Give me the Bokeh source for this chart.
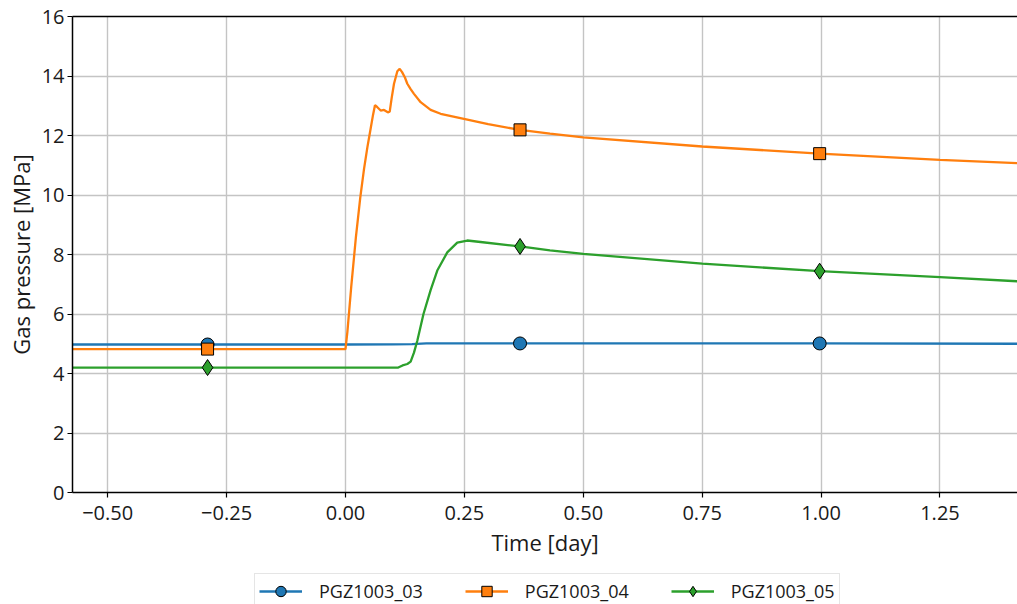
from bokeh.plotting import figure
from bokeh.layouts import column
from bokeh.models import Range1d, FixedTicker, LinearAxis, Legend, LegendItem
from bokeh.embed import file_html
from bokeh.resources import INLINE

# Gas pressure [MPa] against time [day] for three sensors
t03 = [-0.574, -0.29, 0.0, 0.10, 0.14, 0.17, 0.22, 0.367, 0.75, 0.997, 1.413]
p03 = [4.975, 4.975, 4.975, 4.98, 4.99, 5.01, 5.01, 5.01, 5.01, 5.01, 5.0]

t04 = [-0.574, -0.29, 0.0, 0.004, 0.012, 0.022, 0.031, 0.039, 0.046, 0.051,
       0.058, 0.062, 0.067, 0.074, 0.081, 0.089, 0.093, 0.097, 0.102, 0.109,
       0.114, 0.119, 0.125, 0.13, 0.137, 0.144, 0.158, 0.179, 0.2, 0.249,
       0.3, 0.367, 0.43, 0.5, 0.75, 0.997, 1.25, 1.413]
p04 = [4.82, 4.82, 4.82, 5.4, 6.9, 8.6, 9.9, 10.88, 11.6, 12.06,
       12.7, 13.02, 12.95, 12.84, 12.86, 12.78, 12.8, 13.25, 13.74, 14.16,
       14.24, 14.13, 13.95, 13.74, 13.56, 13.40, 13.12, 12.86, 12.73, 12.56,
       12.38, 12.19, 12.06, 11.94, 11.63, 11.39, 11.18, 11.07]

t05 = [-0.574, -0.29, 0.0, 0.111, 0.12, 0.13, 0.137, 0.144, 0.151, 0.164,
       0.179, 0.193, 0.214, 0.235, 0.256, 0.284, 0.367, 0.43, 0.5, 0.75,
       0.997, 1.25, 1.413]
p05 = [4.2, 4.2, 4.2, 4.2, 4.27, 4.32, 4.4, 4.7, 5.1, 6.0,
       6.8, 7.46, 8.07, 8.4, 8.47, 8.42, 8.27, 8.14, 8.02, 7.69,
       7.44, 7.24, 7.10]

# times at which markers are placed on each curve
marker_t = [-0.29, 0.367, 0.997]

labels = ["PGZ1003_03", "PGZ1003_04", "PGZ1003_05"]
colors = ["#1f77b4", "#ff7f0e", "#2ca02c"]
markers = ["circle", "square", "diamond"]
marker_sizes = [13, 12, 16]

x_ticks = [-0.5, -0.25, 0.0, 0.25, 0.5, 0.75, 1.0, 1.25]
y_ticks = [0, 2, 4, 6, 8, 10, 12, 14, 16]

FONT = "Open Sans"
TEXT = "#1a1a1a"

p = figure(width=1017, height=562, output_backend="svg", toolbar_location=None,
           x_range=Range1d(-0.574, 1.413), y_range=Range1d(0, 16),
           min_border_left=72, min_border_right=0, min_border_top=16,
           min_border_bottom=70)
p.outline_line_color = None
p.background_fill_color = "white"
p.border_fill_color = "white"

# axes
p.xaxis.ticker = FixedTicker(ticks=x_ticks)
p.xaxis.major_label_overrides = {v: f"{v:.2f}".replace("-", "\u2212") for v in x_ticks}
p.yaxis.ticker = FixedTicker(ticks=y_ticks)
p.yaxis.major_label_overrides = {v: str(v) for v in y_ticks}
p.xaxis.axis_label = "Time [day]"
p.yaxis.axis_label = "Gas pressure [MPa]"
for ax in (p.xaxis, p.yaxis):
    ax.axis_line_color = "black"
    ax.axis_line_width = 1.5
    ax.major_tick_line_color = "black"
    ax.major_tick_line_width = 1.2
    ax.major_tick_out = 5
    ax.major_tick_in = 0
    ax.minor_tick_line_color = None
    ax.major_label_text_font = FONT
    ax.major_label_text_font_size = "20px"
    ax.major_label_text_color = TEXT
    ax.axis_label_text_font = FONT
    ax.axis_label_text_font_size = "22px"
    ax.axis_label_text_font_style = "normal"
    ax.axis_label_text_color = TEXT
p.xaxis.major_label_standoff = 8
p.xaxis.axis_label_standoff = 4
p.yaxis.major_label_standoff = 3
p.yaxis.axis_label_standoff = 3

top = LinearAxis(ticker=FixedTicker(ticks=[]), axis_line_color="black",
                 axis_line_width=1.5, major_tick_line_color=None,
                 minor_tick_line_color=None, major_label_text_font_size="0px")
p.add_layout(top, "above")

p.xgrid.ticker = FixedTicker(ticks=x_ticks)
p.ygrid.ticker = FixedTicker(ticks=y_ticks)
p.grid.grid_line_color = "#c4c4c4"
p.grid.grid_line_width = 1.4

# legend strip under the chart: its renderers lie outside its own ranges,
# so only the legend swatches show
strip = figure(width=1017, height=42, output_backend="svg", toolbar_location=None,
               x_range=Range1d(0, 1), y_range=Range1d(-2, -1),
               x_axis_location=None, y_axis_location=None,
               min_border_left=0, min_border_right=0, min_border_top=0,
               min_border_bottom=0)
strip.outline_line_color = None
strip.grid.visible = False
strip.border_fill_color = "white"
strip.background_fill_color = "white"

items = []
for t, v, lab, col, mk, ms in zip([t03, t04, t05], [p03, p04, p05], labels,
                                  colors, markers, marker_sizes):
    my = [v[t.index(m)] for m in marker_t]
    p.line(t, v, line_color=col, line_width=2.3)
    p.scatter(marker_t, my, marker=mk, size=ms, fill_color=col,
              line_color="black", line_width=1)
    ln = strip.line(marker_t, my, line_color=col, line_width=2.3)
    sc = strip.scatter(marker_t, my, marker=mk, size=ms, fill_color=col,
                       line_color="black", line_width=1)
    items.append(LegendItem(label=lab, renderers=[ln, sc]))

legend = Legend(items=items, orientation="horizontal", location=(182, -5),
                label_text_font=FONT, label_text_font_size="18px",
                label_text_color=TEXT, glyph_width=43, glyph_height=26,
                label_standoff=17, spacing=42, padding=4, margin=0,
                border_line_color="#cccccc", border_line_width=1,
                background_fill_color="white", background_fill_alpha=1.0)
strip.add_layout(legend, "center")

open("out.html", "w").write(file_html(column(p, strip, spacing=0), INLINE))
